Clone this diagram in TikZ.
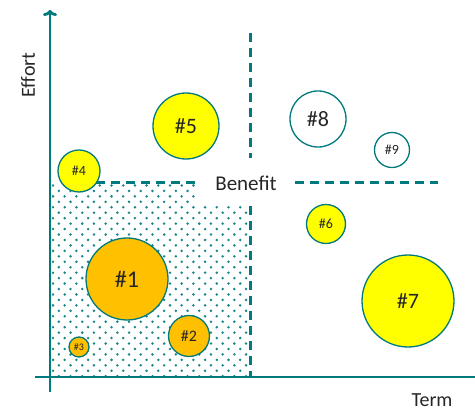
\documentclass[tikz,border=0pt]{standalone}
\usepackage{fontspec}
\setmainfont{Carlito}
\usetikzlibrary{arrows.meta}
\definecolor{teal1}{HTML}{007A7C}
\definecolor{yel}{HTML}{FFFF00}
\definecolor{org}{HTML}{FFC000}
\begin{document}
\begin{tikzpicture}[x=1pt,y=-1pt,
  bub/.style={circle,draw=teal1,line width=1.3pt,inner sep=0pt,text=black!85},
  dsh/.style={draw=teal1,line width=3pt,dash pattern=on 9pt off 6pt},
  ax/.style={draw=teal1,line width=2.8pt}]
\useasboundingbox (0,0) rectangle (475,411);
\clip (0,0) rectangle (475,411);
% dotted region
\begin{scope}
\clip (52,183) rectangle (250,376);
\foreach \i in {0,...,36} {
  \pgfmathsetmacro{\yy}{185.5+5.45*\i}
  \pgfmathsetmacro{\off}{mod(\i,2)*5.85}
  \foreach \j in {0,...,17} {
    \fill[teal1!90] ({53+\off+11.7*\j},\yy) circle (1.4pt);
  }
}
\end{scope}
% dashed lines
\draw[dsh] (96,183) -- (198,183);
\draw[dsh] (295,183) -- (438,183);
\draw[dsh] (250,33) -- (250,158);
\draw[dsh] (250,206) -- (250,376);
% label box
\node[fill=white,minimum width=96pt,minimum height=42pt,inner sep=0pt] (lblbox) at (246,185) {};
\node[font=\fontsize{21}{24}\selectfont,text=black!85] (benefit) at (246,183) {Benefit};
% axes
\coordinate (xs) at (35,377);
\coordinate (xe) at (482,377);
\coordinate (ys) at (50,392);
\coordinate (ye) at (50,10);
\draw[ax,-{To[length=6pt,width=14pt]}] (xs) -- (xe);
\draw[ax,-{To[length=6pt,width=14pt]}] (ys) -- (ye);
\node[rotate=90,font=\fontsize{20}{23}\selectfont,text=black!85] (effort) at (28,75) {Effort};
\node[font=\fontsize{20}{23}\selectfont,text=black!85] (term) at (432,400) {Term};
% bubbles
\node[bub,fill=org,minimum size=82pt,font=\fontsize{24}{27}\selectfont] (b1) at (127,279) {\#1};
\node[bub,fill=org,minimum size=41pt,font=\fontsize{16}{18}\selectfont] (b2) at (189,336) {\#2};
\node[bub,fill=org,minimum size=20pt,font=\fontsize{10}{11}\selectfont] (b3) at (79,347) {\#3};
\node[bub,fill=yel,minimum size=42pt,font=\fontsize{14}{16}\selectfont] (b4) at (79,171) {\#4};
\node[bub,fill=yel,minimum size=66pt,font=\fontsize{22}{25}\selectfont] (b5) at (186,126) {\#5};
\node[bub,fill=yel,minimum size=39pt,font=\fontsize{14}{16}\selectfont] (b6) at (326,224) {\#6};
\node[bub,fill=yel,minimum size=92pt,font=\fontsize{22}{25}\selectfont] (b7) at (408,301) {\#7};
\node[bub,fill=white,minimum size=56pt,font=\fontsize{22}{25}\selectfont] (b8) at (318,119) {\#8};
\node[bub,fill=white,minimum size=35pt,font=\fontsize{14}{16}\selectfont] (b9) at (392,150) {\#9};
\end{tikzpicture}
\end{document}
